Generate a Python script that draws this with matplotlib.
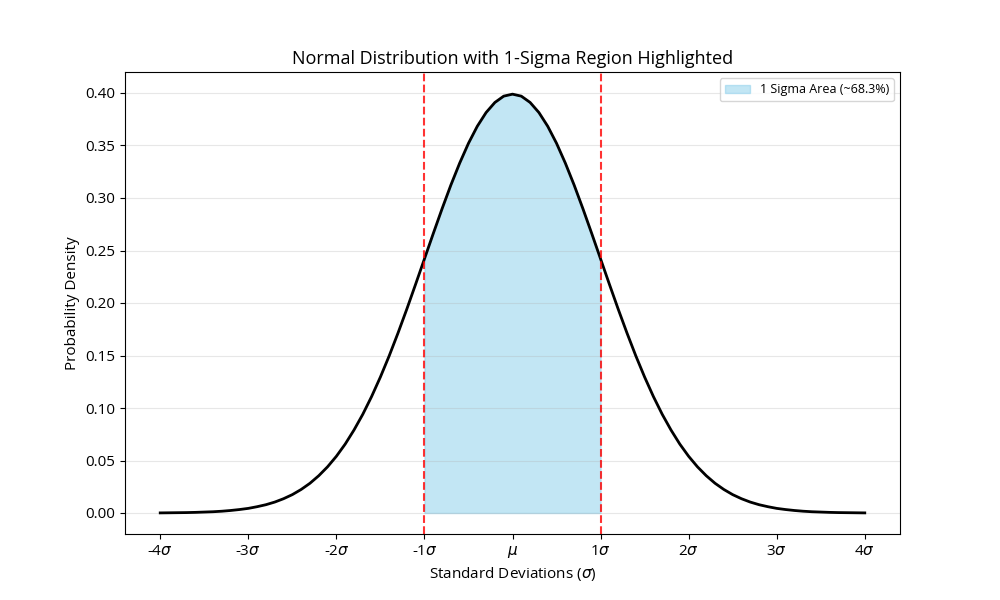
import numpy as np
import matplotlib
matplotlib.use('Agg')
import matplotlib.pyplot as plt

# ─── Data (density, right half; curve is symmetric) ───
half_x = [round(0.1 * i, 1) for i in range(41)]
half_y = [0.3989, 0.3970, 0.3910, 0.3814, 0.3683, 0.3521, 0.3332, 0.3123,
          0.2897, 0.2661, 0.2420, 0.2179, 0.1942, 0.1714, 0.1497, 0.1295,
          0.1109, 0.0940, 0.0790, 0.0656, 0.0540, 0.0440, 0.0355, 0.0283,
          0.0224, 0.0175, 0.0136, 0.0104, 0.0079, 0.0060, 0.0044, 0.0033,
          0.0024, 0.0017, 0.0012, 0.0009, 0.0006, 0.0004, 0.0003, 0.0002,
          0.0001]
x_vals = [-v for v in half_x[:0:-1]] + half_x
y_vals = half_y[:0:-1] + half_y

tick_pos = [-4, -3, -2, -1, 0, 1, 2, 3, 4]
tick_labels = ['-4$\\sigma$', '-3$\\sigma$', '-2$\\sigma$', '-1$\\sigma$', '$\\mu$',
               '1$\\sigma$', '2$\\sigma$', '3$\\sigma$', '4$\\sigma$']
sigma_lines = [-1, 1]

plt.rcParams['font.family'] = ['Open Sans', 'DejaVu Sans']

x = np.array(x_vals)
y = np.array(y_vals)

fig, ax = plt.subplots(figsize=(10, 6), dpi=100)
ax.plot(x, y, color='black', linewidth=2)
mask = (x >= -1) & (x <= 1)
ax.fill_between(x[mask], y[mask], color='skyblue', alpha=0.5,
                label='1 Sigma Area (~68.3%)')
for s in sigma_lines:
    ax.axvline(s, color='red', linestyle='--', linewidth=1.5, alpha=0.8)

ax.set_xticks(tick_pos)
ax.set_xticklabels(tick_labels, fontsize=11)
ax.set_yticks(np.arange(0, 0.41, 0.05))
ax.set_yticklabels([f'{v:.2f}' for v in np.arange(0, 0.41, 0.05)], fontsize=11)
ax.set_ylim(-0.02, 0.42)
ax.grid(axis='y', alpha=0.3)
ax.set_title('Normal Distribution with 1-Sigma Region Highlighted', fontsize=13)
ax.set_xlabel('Standard Deviations ($\\sigma$)', fontsize=11)
ax.set_ylabel('Probability Density', fontsize=11)
ax.legend(loc='upper right', fontsize=9)

fig.savefig('out.png')
